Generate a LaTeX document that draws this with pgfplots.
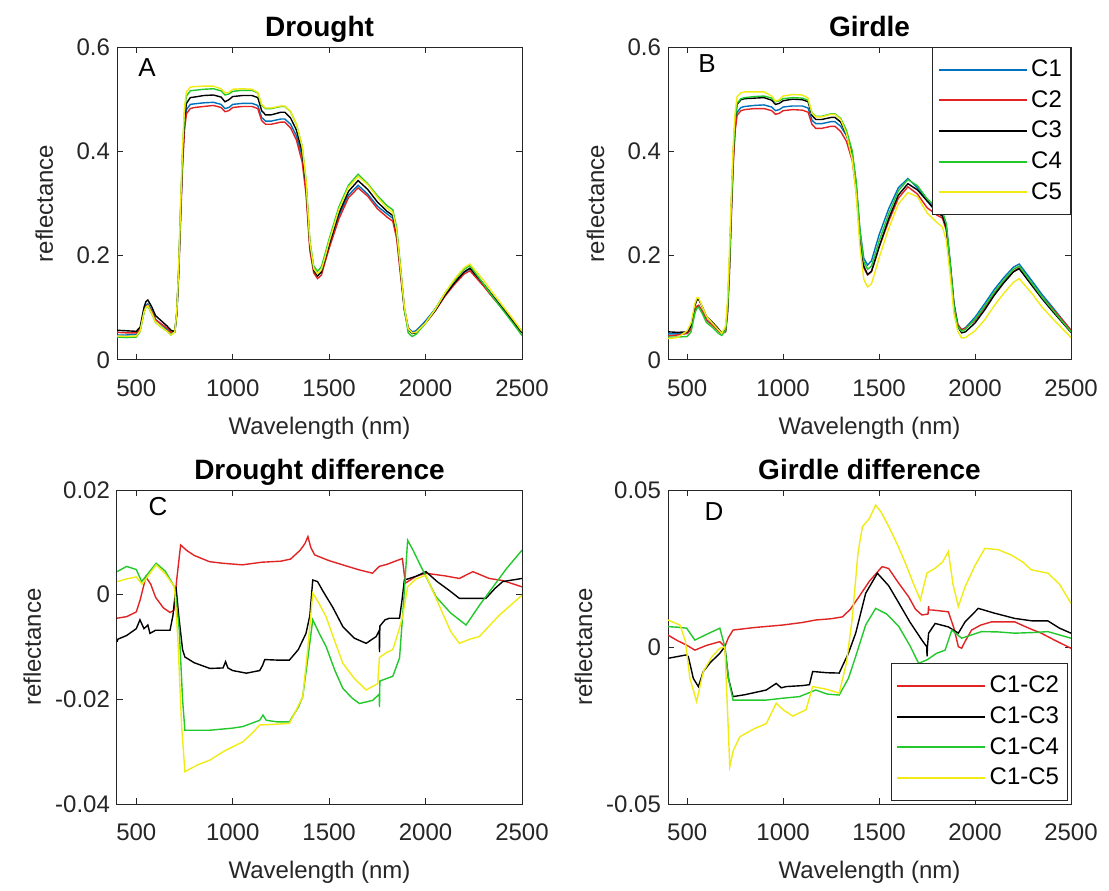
\documentclass[border=0pt]{standalone}
\usepackage{fontspec}
\setmainfont{Liberation Sans}
\usepackage{pgfplots}
\usepackage{pgfplotstable}
\pgfplotsset{compat=1.18}
\definecolor{axgray}{RGB}{38,38,38}
\definecolor{cblue}{RGB}{0,114,189}
\definecolor{cred}{RGB}{225,35,35}
\definecolor{cgreen}{RGB}{35,200,45}
\definecolor{cyellow}{RGB}{240,235,20}

\pgfplotstableread{
x c1 c2 c3 c4 c5
400 0.048 0.053 0.057 0.044 0.046
450 0.048 0.052 0.056 0.043 0.045
500 0.049 0.052 0.055 0.044 0.046
520 0.058 0.059 0.063 0.055 0.056
540 0.095 0.093 0.101 0.091 0.092
550 0.105 0.102 0.112 0.101 0.101
560 0.108 0.105 0.115 0.103 0.104
580 0.095 0.093 0.102 0.089 0.090
600 0.078 0.077 0.085 0.072 0.072
630 0.068 0.069 0.075 0.063 0.063
660 0.058 0.061 0.065 0.055 0.055
680 0.050 0.053 0.057 0.048 0.048
700 0.055 0.057 0.054 0.054 0.054
710 0.090 0.088 0.089 0.092 0.094
720 0.170 0.164 0.172 0.176 0.180
730 0.280 0.271 0.286 0.293 0.300
740 0.380 0.371 0.389 0.400 0.408
750 0.450 0.441 0.462 0.476 0.484
760 0.480 0.472 0.492 0.506 0.514
780 0.490 0.482 0.503 0.516 0.523
800 0.491 0.484 0.504 0.517 0.524
850 0.493 0.486 0.507 0.519 0.525
900 0.494 0.488 0.508 0.520 0.525
940 0.490 0.484 0.504 0.516 0.520
960 0.482 0.476 0.495 0.508 0.512
980 0.484 0.478 0.499 0.510 0.513
1000 0.490 0.484 0.505 0.515 0.519
1050 0.492 0.486 0.507 0.517 0.520
1100 0.492 0.486 0.507 0.517 0.519
1130 0.488 0.482 0.503 0.512 0.513
1150 0.465 0.459 0.478 0.488 0.490
1170 0.458 0.452 0.470 0.482 0.483
1200 0.458 0.452 0.470 0.482 0.483
1250 0.462 0.456 0.475 0.486 0.487
1270 0.462 0.456 0.475 0.486 0.487
1300 0.452 0.445 0.464 0.476 0.476
1330 0.430 0.422 0.441 0.452 0.452
1360 0.390 0.380 0.399 0.410 0.410
1380 0.330 0.319 0.337 0.346 0.345
1400 0.220 0.210 0.221 0.229 0.226
1420 0.175 0.167 0.172 0.180 0.175
1440 0.163 0.156 0.161 0.170 0.165
1460 0.170 0.163 0.169 0.179 0.173
1480 0.195 0.189 0.195 0.205 0.199
1500 0.220 0.214 0.221 0.232 0.227
1550 0.276 0.270 0.281 0.293 0.288
1600 0.316 0.311 0.323 0.335 0.331
1650 0.335 0.330 0.344 0.356 0.352
1700 0.318 0.314 0.327 0.338 0.336
1750 0.295 0.290 0.303 0.315 0.312
1800 0.280 0.274 0.285 0.296 0.291
1830 0.272 0.266 0.277 0.288 0.283
1850 0.240 0.233 0.245 0.254 0.248
1870 0.170 0.163 0.173 0.180 0.175
1890 0.100 0.096 0.097 0.097 0.102
1910 0.062 0.060 0.059 0.052 0.060
1930 0.054 0.051 0.051 0.045 0.052
1950 0.056 0.053 0.052 0.049 0.053
2000 0.075 0.071 0.071 0.071 0.071
2050 0.098 0.094 0.095 0.098 0.097
2100 0.125 0.122 0.124 0.128 0.128
2150 0.148 0.145 0.148 0.153 0.155
2200 0.168 0.165 0.169 0.174 0.177
2230 0.175 0.171 0.176 0.181 0.184
2300 0.145 0.142 0.146 0.146 0.153
2350 0.122 0.119 0.122 0.120 0.128
2400 0.100 0.098 0.098 0.096 0.104
2450 0.078 0.076 0.075 0.072 0.080
2500 0.055 0.054 0.052 0.047 0.055
}\drought

\pgfplotstableread{
x c1 c2 c3 c4 c5
400 0.050 0.046 0.054 0.044 0.041
450 0.050 0.048 0.053 0.044 0.043
500 0.051 0.051 0.054 0.045 0.056
520 0.058 0.059 0.065 0.054 0.071
540 0.092 0.093 0.104 0.090 0.108
550 0.102 0.103 0.115 0.099 0.119
560 0.104 0.105 0.116 0.101 0.119
580 0.092 0.092 0.101 0.088 0.101
600 0.077 0.077 0.084 0.072 0.084
630 0.068 0.067 0.073 0.063 0.071
660 0.058 0.057 0.061 0.052 0.059
680 0.051 0.050 0.052 0.047 0.051
700 0.055 0.054 0.057 0.057 0.065
710 0.090 0.088 0.096 0.096 0.115
720 0.170 0.167 0.180 0.180 0.207
730 0.280 0.276 0.293 0.294 0.316
740 0.380 0.375 0.396 0.397 0.413
750 0.445 0.440 0.461 0.462 0.476
760 0.475 0.469 0.490 0.492 0.505
780 0.484 0.478 0.499 0.501 0.512
800 0.486 0.480 0.501 0.503 0.514
850 0.488 0.482 0.502 0.505 0.514
900 0.489 0.482 0.503 0.506 0.514
940 0.485 0.478 0.498 0.502 0.506
960 0.478 0.471 0.490 0.495 0.496
980 0.480 0.473 0.492 0.497 0.499
1000 0.485 0.478 0.497 0.501 0.506
1050 0.487 0.480 0.500 0.503 0.509
1100 0.487 0.479 0.499 0.502 0.508
1130 0.483 0.475 0.495 0.498 0.502
1150 0.460 0.452 0.469 0.474 0.473
1170 0.453 0.444 0.461 0.467 0.466
1200 0.453 0.444 0.461 0.467 0.466
1250 0.457 0.448 0.465 0.472 0.471
1270 0.457 0.448 0.465 0.472 0.471
1300 0.448 0.438 0.456 0.463 0.461
1330 0.430 0.419 0.433 0.440 0.434
1360 0.395 0.382 0.394 0.401 0.385
1380 0.340 0.325 0.336 0.343 0.320
1400 0.250 0.234 0.240 0.248 0.218
1420 0.195 0.177 0.180 0.189 0.155
1440 0.182 0.163 0.164 0.174 0.140
1460 0.190 0.169 0.170 0.180 0.146
1480 0.215 0.192 0.193 0.203 0.170
1500 0.240 0.216 0.217 0.228 0.196
1550 0.290 0.266 0.271 0.280 0.252
1600 0.330 0.310 0.316 0.324 0.299
1650 0.348 0.332 0.338 0.346 0.321
1700 0.330 0.318 0.326 0.334 0.313
1750 0.305 0.292 0.305 0.309 0.282
1800 0.290 0.278 0.283 0.293 0.264
1830 0.283 0.272 0.276 0.285 0.255
1850 0.260 0.249 0.254 0.261 0.230
1870 0.190 0.182 0.184 0.187 0.163
1890 0.110 0.105 0.105 0.105 0.089
1910 0.068 0.068 0.064 0.064 0.055
1930 0.058 0.058 0.052 0.055 0.042
1950 0.062 0.061 0.054 0.059 0.043
2000 0.082 0.076 0.071 0.078 0.056
2050 0.108 0.101 0.096 0.103 0.077
2100 0.135 0.127 0.124 0.130 0.104
2150 0.158 0.150 0.148 0.153 0.128
2200 0.178 0.170 0.169 0.174 0.149
2230 0.184 0.177 0.175 0.180 0.156
2300 0.150 0.144 0.141 0.145 0.126
2350 0.125 0.120 0.117 0.120 0.101
2400 0.103 0.100 0.095 0.098 0.081
2450 0.080 0.079 0.074 0.076 0.062
2500 0.057 0.057 0.053 0.054 0.043
}\girdle

\pgfplotsset{
  panel/.style={
    scale only axis,
    xmin=400, xmax=2500,
    xtick={500,1000,1500,2000,2500},
    xticklabels={500,1000,1500,2000,2500},
    scaled x ticks=false, scaled y ticks=false,
    axis line style={axgray, line width=0.5pt},
    tick style={axgray, line width=0.5pt},
    major tick length=3pt,
    tick align=inside,
    tick pos=both,
    font=\fontsize{12}{14}\selectfont,
    tick label style={axgray, font=\fontsize{12}{14}\selectfont},
    xticklabel style={yshift=-6.5pt},
    label style={axgray, font=\fontsize{12}{14}\selectfont},
    xlabel={Wavelength (nm)},
    ylabel={reflectance},
    xlabel style={at={([yshift=-28.5pt]axis description cs:0.5,0)}, anchor=north, inner sep=0pt},
    every axis title shift=0pt,
    title style={font=\bfseries\fontsize{14}{16}\selectfont, anchor=base, at={([yshift=5.5pt]axis description cs:0.5,1)}},
    legend cell align=left,
    legend image code/.code={\draw[#1, line width=1pt] (0pt,0pt) -- (44pt,0pt);},
    legend style={draw=axgray, line width=0.5pt, fill=white, font=\fontsize{12}{14}\selectfont,
      inner xsep=2.5pt, inner ysep=4.4pt, row sep=1.85pt, nodes={inner sep=1.8pt, text=black}},
    every axis plot/.append style={line width=0.7pt},
  },
  ylabA/.style={ylabel style={at={([xshift=-32pt]axis description cs:0,0.5)}, anchor=base, rotate=0}},
  ylabC/.style={ylabel style={at={([xshift=-38pt]axis description cs:0,0.5)}, anchor=base, rotate=0}},
}

\begin{document}
\begin{tikzpicture}
\useasboundingbox (0pt,0pt) rectangle (554.5pt,445pt);

% Panel A
\begin{axis}[panel, ylabA, at={(58.5pt,265pt)}, anchor=south west,
  width=202.5pt, height=156.5pt,
  ymin=0, ymax=0.6, ytick={0,0.2,0.4,0.6}, yticklabels={0,0.2,0.4,0.6},
  title={Drought}]
\addplot[cblue] table[x=x,y=c1] {\drought};
\addplot[cred] table[x=x,y=c2] {\drought};
\addplot[black] table[x=x,y=c3] {\drought};
\addplot[cgreen] table[x=x,y=c4] {\drought};
\addplot[cyellow] table[x=x,y=c5] {\drought};
\node[font=\fontsize{13}{15}\selectfont, text=black] at (axis description cs:0.074,0.933) {A};
\end{axis}

% Panel B
\begin{axis}[panel, ylabA, at={(334pt,265pt)}, anchor=south west,
  width=201.5pt, height=156.5pt,
  ymin=0, ymax=0.6, ytick={0,0.2,0.4,0.6}, yticklabels={0,0.2,0.4,0.6},
  title={Girdle},
  legend style={at={(1,1)}, anchor=north east}]
\addplot[cblue] table[x=x,y=c1] {\girdle};
\addplot[cred] table[x=x,y=c2] {\girdle};
\addplot[black] table[x=x,y=c3] {\girdle};
\addplot[cgreen] table[x=x,y=c4] {\girdle};
\addplot[cyellow] table[x=x,y=c5] {\girdle};
\legend{C1,C2,C3,C4,C5}
\node[font=\fontsize{13}{15}\selectfont, text=black] at (axis description cs:0.097,0.946) {B};
\end{axis}

% Panel C
\begin{axis}[panel, ylabC, at={(58.5pt,43pt)}, anchor=south west,
  width=202.5pt, height=157pt,
  ymin=-0.04, ymax=0.02, ytick={-0.04,-0.02,0,0.02}, yticklabels={-0.04,-0.02,0,0.02},
  title={Drought difference}]
\addplot[cred] coordinates {
(400,-0.0045) (450,-0.0042) (500,-0.0033) (520,-0.001) (550,0.0034) (575,0.002) (600,-0.0005) (640,-0.0025) (675,-0.0034) (695,-0.003) (710,0.003) (730,0.0095) (760,0.0085) (800,0.0075) (880,0.0063) (950,0.006) (1050,0.0057) (1150,0.0062) (1250,0.0064) (1300,0.0068) (1350,0.0085) (1375,0.0098) (1390,0.0111) (1405,0.009) (1425,0.0076) (1500,0.0065) (1570,0.0057) (1650,0.0048) (1725,0.0041) (1760,0.0054) (1800,0.0058) (1850,0.0065) (1880,0.0069) (1895,0.0022) (1950,0.0035) (2000,0.0041) (2100,0.0036) (2175,0.0031) (2245,0.0044) (2330,0.0031) (2400,0.0027) (2500,0.0015)};
\addplot[black] coordinates {
(400,-0.009) (405,-0.0085) (450,-0.0078) (500,-0.0065) (519,-0.0048) (540,-0.0065) (560,-0.0058) (571,-0.0074) (600,-0.0068) (640,-0.0068) (675,-0.0068) (690,-0.004) (706,0.0015) (720,-0.004) (740,-0.0105) (752,-0.0119) (800,-0.013) (882,-0.0141) (950,-0.014) (963,-0.0128) (975,-0.014) (1000,-0.0145) (1071,-0.015) (1140,-0.0145) (1155,-0.0135) (1166,-0.0124) (1230,-0.0125) (1294,-0.0125) (1340,-0.0105) (1380,-0.0074) (1400,-0.004) (1415,0.0028) (1440,0.0025) (1466,0.0008) (1520,-0.0025) (1571,-0.0061) (1630,-0.0083) (1692,-0.0093) (1744,-0.008) (1760,-0.0068) (1761,-0.011) (1763,-0.006) (1790,-0.0048) (1813,-0.0045) (1865,-0.0045) (1878,-0.001) (1890,0.0028) (1950,0.0035) (2002,0.0044) (2060,0.0025) (2123,0.0008) (2175,-0.0007) (2250,-0.0007) (2313,-0.0007) (2360,0.0012) (2400,0.0025) (2500,0.0031)};
\addplot[cgreen] coordinates {
(400,0.0044) (450,0.0054) (500,0.0048) (528,0.0025) (560,0.004) (603,0.006) (650,0.0045) (698,0.0015) (710,-0.002) (723,-0.0068) (740,-0.02) (752,-0.0259) (882,-0.0259) (1000,-0.0255) (1053,-0.0252) (1140,-0.024) (1157,-0.023) (1174,-0.024) (1230,-0.0243) (1294,-0.0243) (1340,-0.0215) (1363,-0.0195) (1390,-0.012) (1415,-0.0048) (1450,-0.0075) (1484,-0.0099) (1530,-0.0145) (1571,-0.0179) (1620,-0.0198) (1657,-0.0208) (1726,-0.0202) (1760,-0.019) (1761,-0.0215) (1763,-0.0165) (1800,-0.016) (1830,-0.0156) (1865,-0.0121) (1885,-0.002) (1907,0.0104) (1935,0.0085) (1968,0.006) (2054,-0.0004) (2130,-0.0035) (2210,-0.0058) (2280,-0.002) (2348,0.0014) (2420,0.005) (2500,0.0085)};
\addplot[cyellow] coordinates {
(400,0.0025) (450,0.003) (500,0.0034) (530,0.002) (560,0.0035) (603,0.0057) (650,0.004) (698,0.0015) (715,-0.008) (735,-0.025) (752,-0.0338) (820,-0.0325) (882,-0.0316) (960,-0.0298) (1053,-0.0281) (1100,-0.0265) (1140,-0.0249) (1200,-0.0248) (1294,-0.0246) (1330,-0.022) (1363,-0.0195) (1390,-0.01) (1415,0.0003) (1445,-0.0015) (1484,-0.0042) (1530,-0.009) (1571,-0.0131) (1630,-0.016) (1692,-0.0182) (1752,-0.017) (1761,-0.012) (1800,-0.011) (1830,-0.0105) (1860,-0.007) (1881,-0.0042) (1907,0.0015) (1950,0.003) (2002,0.0037) (2040,0.0005) (2089,-0.0036) (2130,-0.007) (2175,-0.0093) (2230,-0.0085) (2279,-0.008) (2380,-0.004) (2500,-0.0001)};
\node[font=\fontsize{13}{15}\selectfont, text=black] at (axis description cs:0.101,0.946) {C};
\end{axis}

% Panel D
\begin{axis}[panel, ylabC, at={(334pt,43pt)}, anchor=south west,
  width=201.5pt, height=157pt,
  ymin=-0.05, ymax=0.05, ytick={-0.05,0,0.05}, yticklabels={-0.05,0,0.05},
  title={Girdle difference},
  legend style={at={(0.993,0.01)}, anchor=south east}]
\addplot[cred] coordinates {
(400,0.0038) (450,0.002) (500,0.0005) (540,-0.001) (600,0.0005) (670,0.0017) (696,0.0001) (715,0.003) (739,0.0054) (850,0.0062) (998,0.007) (1100,0.0078) (1170,0.0086) (1250,0.009) (1309,0.0096) (1350,0.012) (1395,0.016) (1450,0.021) (1516,0.0256) (1550,0.025) (1600,0.0205) (1654,0.016) (1690,0.012) (1723,0.0102) (1755,0.0105) (1758,0.013) (1760,0.0118) (1775,0.0118) (1861,0.0112) (1890,0.006) (1913,0.0001) (1930,-0.0004) (1950,0.002) (1982,0.0054) (2030,0.007) (2086,0.008) (2207,0.008) (2280,0.006) (2345,0.0044) (2420,0.002) (2500,-0.0004)};
\addplot[black] coordinates {
(400,-0.0036) (497,-0.0025) (506,-0.0031) (532,-0.01) (558,-0.0126) (584,-0.0078) (620,-0.005) (670,-0.002) (696,0.0001) (715,-0.01) (739,-0.0158) (800,-0.0152) (912,-0.0137) (964,-0.0116) (990,-0.013) (1016,-0.0126) (1100,-0.0123) (1137,-0.012) (1154,-0.0078) (1230,-0.0082) (1292,-0.0083) (1340,-0.002) (1378,0.0044) (1430,0.0171) (1491,0.0235) (1550,0.0195) (1603,0.014) (1660,0.008) (1723,0.0022) (1748,0.0001) (1750,-0.003) (1752,0.0001) (1758,0.0044) (1792,0.0075) (1861,0.0064) (1913,0.0044) (1948,0.008) (2017,0.0123) (2100,0.0108) (2207,0.0091) (2300,0.0083) (2380,0.0083) (2440,0.006) (2500,0.0044)};
\addplot[cgreen] coordinates {
(400,0.0065) (450,0.0063) (497,0.006) (540,0.0022) (600,0.004) (670,0.006) (696,0.0001) (715,-0.01) (739,-0.0169) (912,-0.0169) (1000,-0.0163) (1085,-0.0158) (1170,-0.0137) (1230,-0.015) (1292,-0.0153) (1340,-0.01) (1378,-0.003) (1430,0.007) (1482,0.0123) (1540,0.0105) (1603,0.0065) (1660,0.0005) (1706,-0.0052) (1749,-0.0041) (1800,-0.002) (1844,-0.001) (1879,0.0054) (1930,0.0028) (2034,0.0049) (2120,0.0048) (2207,0.0044) (2300,0.0046) (2380,0.0049) (2500,0.0028)};
\addplot[cyellow] coordinates {
(400,0.0086) (462,0.007) (490,0.002) (514,-0.0099) (549,-0.0174) (584,-0.0078) (630,-0.003) (670,-0.0004) (696,0) (710,-0.02) (722,-0.0381) (740,-0.033) (774,-0.0286) (850,-0.026) (912,-0.0244) (964,-0.0179) (1000,-0.02) (1050,-0.022) (1119,-0.02) (1154,-0.0126) (1230,-0.0135) (1292,-0.0147) (1330,-0.005) (1361,0.0096) (1390,0.03) (1413,0.0383) (1450,0.041) (1482,0.0452) (1510,0.043) (1551,0.0383) (1600,0.032) (1637,0.0267) (1680,0.02) (1715,0.015) (1735,0.02) (1749,0.0235) (1792,0.0251) (1830,0.027) (1861,0.0304) (1885,0.02) (1913,0.0129) (1948,0.0192) (2000,0.026) (2051,0.0314) (2120,0.031) (2189,0.0293) (2250,0.027) (2293,0.0246) (2380,0.0235) (2440,0.02) (2500,0.0139)};
\legend{C1-C2,C1-C3,C1-C4,C1-C5}
\node[font=\fontsize{13}{15}\selectfont, text=black] at (axis description cs:0.114,0.93) {D};
\end{axis}
\end{tikzpicture}
\end{document}
